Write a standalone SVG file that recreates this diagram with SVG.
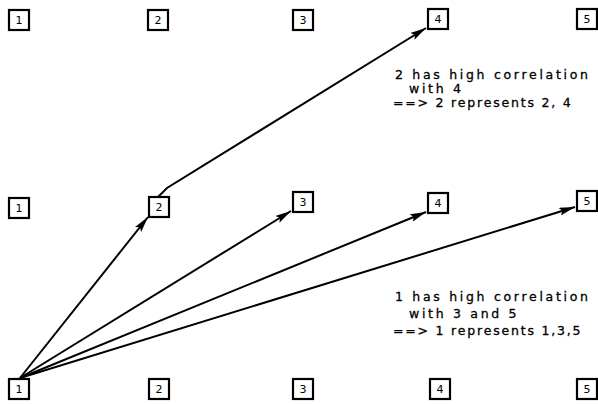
<svg xmlns="http://www.w3.org/2000/svg" width="598" height="404" viewBox="0 0 598 404">
<style>
.box{fill:#fff;stroke:#000;stroke-width:2.2}
.lbl{font-family:"DejaVu Sans","Liberation Sans",sans-serif;font-size:11px;text-anchor:middle;fill:#000}
.note{font-family:"DejaVu Sans","Liberation Sans",sans-serif;font-size:12.5px;fill:#000;stroke:#000;stroke-width:0.3;letter-spacing:2.7px}
.note.res{letter-spacing:1.8px}
.edge{stroke:#000;stroke-width:2;fill:none;marker-end:url(#ah)}
</style>
<defs>
<marker id="ah" viewBox="0 0 16 8" refX="16" refY="4" markerWidth="16" markerHeight="8" markerUnits="userSpaceOnUse" orient="auto">
<path d="M0,0 L16,4 L0,8 L3,4 Z" fill="#000"/>
</marker>
</defs>
<g id="top-1"><rect class="box" x="9" y="10" width="20" height="20"/><text class="lbl" x="19" y="24">1</text></g>
<g id="top-2"><rect class="box" x="148" y="10" width="20" height="20"/><text class="lbl" x="158" y="24">2</text></g>
<g id="top-3"><rect class="box" x="293" y="10" width="20" height="20"/><text class="lbl" x="303" y="24">3</text></g>
<g id="top-4"><rect class="box" x="428" y="9" width="20" height="20"/><text class="lbl" x="438" y="23">4</text></g>
<g id="top-5"><rect class="box" x="577" y="9" width="20" height="20"/><text class="lbl" x="587" y="23">5</text></g>

<g id="mid-1"><rect class="box" x="9" y="198" width="20" height="20"/><text class="lbl" x="19" y="212">1</text></g>
<g id="mid-2"><rect class="box" x="149" y="197" width="20" height="20"/><text class="lbl" x="159" y="211">2</text></g>
<g id="mid-3"><rect class="box" x="293" y="192" width="20" height="20"/><text class="lbl" x="303" y="206">3</text></g>
<g id="mid-4"><rect class="box" x="428" y="193" width="20" height="20"/><text class="lbl" x="438" y="207">4</text></g>
<g id="mid-5"><rect class="box" x="577" y="191" width="20" height="20"/><text class="lbl" x="587" y="205">5</text></g>

<g id="bot-1"><rect class="box" x="9" y="379" width="20" height="20"/><text class="lbl" x="19" y="393">1</text></g>
<g id="bot-2"><rect class="box" x="149" y="379" width="20" height="20"/><text class="lbl" x="159" y="393">2</text></g>
<g id="bot-3"><rect class="box" x="293" y="379" width="20" height="20"/><text class="lbl" x="303" y="393">3</text></g>
<g id="bot-4"><rect class="box" x="430" y="379" width="20" height="20"/><text class="lbl" x="440" y="393">4</text></g>
<g id="bot-5"><rect class="box" x="577" y="379" width="20" height="20"/><text class="lbl" x="587" y="393">5</text></g>

<g id="connectors">
<line class="edge" x1="20" y1="378" x2="148" y2="217"/>
<line class="edge" x1="20" y1="378" x2="291" y2="211"/>
<line class="edge" x1="20" y1="378" x2="426" y2="212"/>
<line class="edge" x1="20" y1="378" x2="575" y2="207"/>
<polyline class="edge" points="158,197 167,188 426,28"/>
</g>

<g id="notes">
<text class="note" x="395" y="79">2 has high correlation</text>
<text class="note" x="409" y="93">with 4</text>
<text class="note res" x="393" y="107">==&gt; 2 represents 2, 4</text>
<text class="note" x="395" y="301">1 has high correlation</text>
<text class="note" x="409" y="318">with 3 and 5</text>
<text class="note res" x="393" y="335">==&gt; 1 represents 1,3,5</text>
</g>
</svg>
